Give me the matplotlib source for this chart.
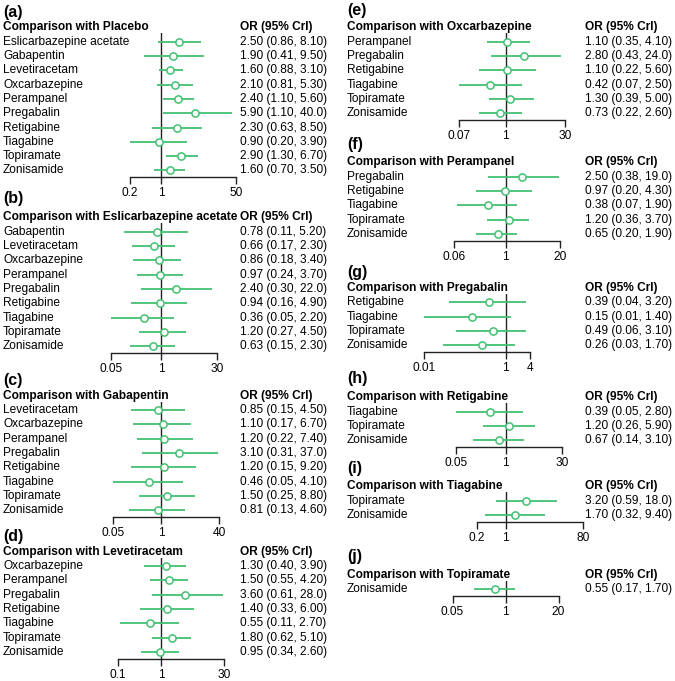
import matplotlib
matplotlib.use("Agg")
import matplotlib.pyplot as plt
import numpy as np

plt.rcParams['font.family'] = ['Liberation Sans', 'DejaVu Sans']

W, H = 675, 681
GREEN = '#43c072'

# ---------------- data ----------------
titles = ["Placebo", "Eslicarbazepine acetate", "Gabapentin", "Levetiracetam",
          "Oxcarbazepine", "Perampanel", "Pregabalin", "Retigabine",
          "Tiagabine", "Topiramate"]
letters = ["a", "b", "c", "d", "e", "f", "g", "h", "i", "j"]

a_names = ["Eslicarbazepine acetate", "Gabapentin", "Levetiracetam", "Oxcarbazepine",
           "Perampanel", "Pregabalin", "Retigabine", "Tiagabine", "Topiramate", "Zonisamide"]
a_or = [2.50, 1.90, 1.60, 2.10, 2.40, 5.90, 2.30, 0.90, 2.90, 1.60]
a_lo = [0.86, 0.41, 0.88, 0.81, 1.10, 1.10, 0.63, 0.20, 1.30, 0.70]
a_hi = [8.10, 9.50, 3.10, 5.30, 5.60, 40.0, 8.50, 3.90, 6.70, 3.50]
a_ticks = [0.2, 1, 50]

b_names = ["Gabapentin", "Levetiracetam", "Oxcarbazepine", "Perampanel", "Pregabalin",
           "Retigabine", "Tiagabine", "Topiramate", "Zonisamide"]
b_or = [0.78, 0.66, 0.86, 0.97, 2.40, 0.94, 0.36, 1.20, 0.63]
b_lo = [0.11, 0.17, 0.18, 0.24, 0.30, 0.16, 0.05, 0.27, 0.15]
b_hi = [5.20, 2.30, 3.40, 3.70, 22.0, 4.90, 2.20, 4.50, 2.30]
b_ticks = [0.05, 1, 30]

c_names = ["Levetiracetam", "Oxcarbazepine", "Perampanel", "Pregabalin", "Retigabine",
           "Tiagabine", "Topiramate", "Zonisamide"]
c_or = [0.85, 1.10, 1.20, 3.10, 1.20, 0.46, 1.50, 0.81]
c_lo = [0.15, 0.17, 0.22, 0.31, 0.15, 0.05, 0.25, 0.13]
c_hi = [4.50, 6.70, 7.40, 37.0, 9.20, 4.10, 8.80, 4.60]
c_ticks = [0.05, 1, 40]

d_names = ["Oxcarbazepine", "Perampanel", "Pregabalin", "Retigabine", "Tiagabine",
           "Topiramate", "Zonisamide"]
d_or = [1.30, 1.50, 3.60, 1.40, 0.55, 1.80, 0.95]
d_lo = [0.40, 0.55, 0.61, 0.33, 0.11, 0.62, 0.34]
d_hi = [3.90, 4.20, 28.0, 6.00, 2.70, 5.10, 2.60]
d_ticks = [0.1, 1, 30]

e_names = ["Perampanel", "Pregabalin", "Retigabine", "Tiagabine", "Topiramate", "Zonisamide"]
e_or = [1.10, 2.80, 1.10, 0.42, 1.30, 0.73]
e_lo = [0.35, 0.43, 0.22, 0.07, 0.39, 0.22]
e_hi = [4.10, 24.0, 5.60, 2.50, 5.00, 2.60]
e_ticks = [0.07, 1, 30]

f_names = ["Pregabalin", "Retigabine", "Tiagabine", "Topiramate", "Zonisamide"]
f_or = [2.50, 0.97, 0.38, 1.20, 0.65]
f_lo = [0.38, 0.20, 0.07, 0.36, 0.20]
f_hi = [19.0, 4.30, 1.90, 3.70, 1.90]
f_ticks = [0.06, 1, 20]

g_names = ["Retigabine", "Tiagabine", "Topiramate", "Zonisamide"]
g_or = [0.39, 0.15, 0.49, 0.26]
g_lo = [0.04, 0.01, 0.06, 0.03]
g_hi = [3.20, 1.40, 3.10, 1.70]
g_ticks = [0.01, 1, 4]

h_names = ["Tiagabine", "Topiramate", "Zonisamide"]
h_or = [0.39, 1.20, 0.67]
h_lo = [0.05, 0.26, 0.14]
h_hi = [2.80, 5.90, 3.10]
h_ticks = [0.05, 1, 30]

i_names = ["Topiramate", "Zonisamide"]
i_or = [3.20, 1.70]
i_lo = [0.59, 0.32]
i_hi = [18.0, 9.40]
i_ticks = [0.2, 1, 80]

j_names = ["Zonisamide"]
j_or = [0.55]
j_lo = [0.17]
j_hi = [1.70]
j_ticks = [0.05, 1, 20]

panels = [
    (a_names, a_or, a_lo, a_hi, a_ticks),
    (b_names, b_or, b_lo, b_hi, b_ticks),
    (c_names, c_or, c_lo, c_hi, c_ticks),
    (d_names, d_or, d_lo, d_hi, d_ticks),
    (e_names, e_or, e_lo, e_hi, e_ticks),
    (f_names, f_or, f_lo, f_hi, f_ticks),
    (g_names, g_or, g_lo, g_hi, g_ticks),
    (h_names, h_or, h_lo, h_hi, h_ticks),
    (i_names, i_or, i_lo, i_hi, i_ticks),
    (j_names, j_or, j_lo, j_hi, j_ticks),
]

# ---------------- layout (pixels) ----------------
first_row_y = [41.7, 231.7, 410, 566, 41.7, 176.7, 302.3, 411.7, 500.7, 589]
label_y = [12, 198, 381, 536, 10, 145, 272, 379, 469, 557]
col = [0, 0, 0, 0, 1, 1, 1, 1, 1, 1]
name_x = [3, 347]
or_x = [240, 585]
one_x = [161, 505.5]
AXW = 106
SP = 14.3
FS = 8.6


def fmt(v):
    return "%.2f" % v if v < 10 else "%.1f" % v


def tfmt(v):
    return ("%g" % v)


fig = plt.figure(figsize=(W / 100, H / 100), dpi=100)


def fx(p):
    return p / W


def fy(p):
    return 1 - p / H


for k, (names, ors, los, his, ticks) in enumerate(panels):
    c = col[k]
    n = len(names)
    y0 = first_row_y[k]
    lo_t, hi_t = ticks[0], ticks[-1]
    frac1 = np.log10(1 / lo_t) / np.log10(hi_t / lo_t)
    left_px = one_x[c] - frac1 * AXW
    top_px = y0 - 0.59 * SP
    bot_px = y0 + (n - 1) * SP + 7
    ax = fig.add_axes([fx(left_px), fy(bot_px), fx(AXW), (bot_px - top_px) / H])
    ax.set_xscale('log')
    ax.set_xlim(lo_t, hi_t)
    ax.set_ylim((n - 1) + 7 / SP, -0.59)
    ax.patch.set_alpha(0)
    for s in ['top', 'right', 'left']:
        ax.spines[s].set_visible(False)
    ax.spines['bottom'].set_linewidth(1.0)
    ax.spines['bottom'].set_color('#222222')
    ax.set_yticks([])
    ax.set_xticks(ticks)
    ax.set_xticklabels([tfmt(t) for t in ticks], fontsize=FS)
    ax.xaxis.set_minor_locator(matplotlib.ticker.NullLocator())
    ax.tick_params(axis='x', direction='out', length=5, width=1.0, pad=2.0,
                   color='#222222')
    ax.axvline(1, color='#222222', lw=1.0, zorder=1)
    yy = np.arange(n)
    ax.hlines(yy, los, his, color=GREEN, lw=1.3, zorder=2)
    ax.plot(ors, yy, 'o', ms=5.2, mfc='white', mec=GREEN, mew=1.1, zorder=3,
            clip_on=False)

    # texts
    fig.text(fx(name_x[c]), fy(label_y[k]), "(%s)" % letters[k], fontsize=11.5,
             fontweight='bold', va='center', ha='left')
    fig.text(fx(name_x[c]), fy(y0 - SP), "Comparison with %s" % titles[k],
             fontsize=FS, fontweight='bold', va='center', ha='left')
    fig.text(fx(or_x[c]), fy(y0 - SP), "OR (95% CrI)", fontsize=FS,
             fontweight='bold', va='center', ha='left')
    for r in range(n):
        fig.text(fx(name_x[c]), fy(y0 + r * SP), names[r], fontsize=FS,
                 va='center', ha='left')
        fig.text(fx(or_x[c]), fy(y0 + r * SP),
                 "%s (%s, %s)" % (fmt(ors[r]), fmt(los[r]), fmt(his[r])),
                 fontsize=FS, va='center', ha='left')

fig.savefig("out.png", dpi=100, facecolor='white')
